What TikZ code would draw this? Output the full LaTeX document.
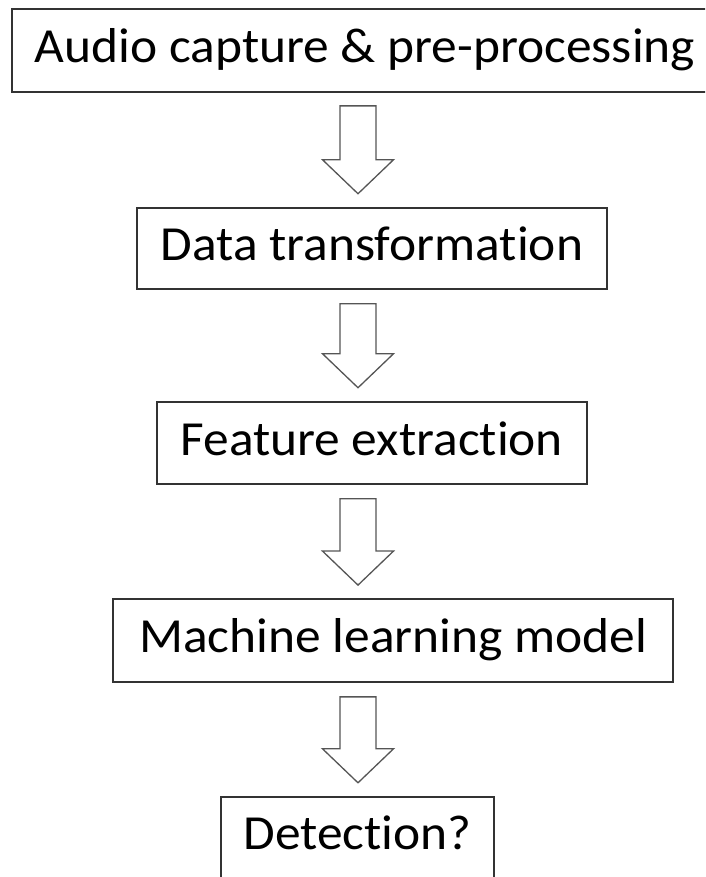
\documentclass[tikz,border=0pt]{standalone}
\usepackage{fontspec}
\setmainfont[Ligatures=CommonOff,FakeStretch=1.05]{Carlito}
\usetikzlibrary{calc}
\definecolor{boxline}{HTML}{333333}
\definecolor{arrline}{HTML}{555555}
\tikzset{
  stepbox/.style={draw=boxline, line width=1.8pt, fill=white, inner sep=0pt,
    font=\fontsize{49}{56}\selectfont, text height=36pt, text depth=11pt, align=center},
  openbox/.style={stepbox, draw=none},
  boxedge/.style={draw=boxline, line width=1.8pt, line join=miter},
  flowarrow/.style={draw=arrline, line width=1.3pt, fill=white, line join=miter}
}
\newcommand{\blockarrow}[2]{%
  \draw[flowarrow] let \p1=(#1.south), \p2=(#2.north) in
    (340pt,\y1-14pt) -- (376pt,\y1-14pt) -- (376pt,\y2+47pt) -- (393.5pt,\y2+47pt)
    -- (358pt,\y2+13pt) -- (322.5pt,\y2+47pt) -- (340pt,\y2+47pt) -- cycle;}
\begin{document}
\begin{tikzpicture}[x=1pt,y=1pt]
\useasboundingbox (0,0) rectangle (705,877);
\clip (0,0) rectangle (705,877);
\fill[white] (0,0) rectangle (705,877);
\node[openbox, minimum width=760pt, minimum height=81pt] (capture) at (393,826.5) {\kern-56pt Audio capture \& pre-processing};
\draw[boxedge] (capture.north east) -- (capture.north west) -- (capture.south west) -- (capture.south east);
\node[stepbox, minimum width=469.4pt, minimum height=81.3pt] (transform) at (372,628.7) {Data transformation};
\node[stepbox, minimum width=430pt, minimum height=82.3pt] (features) at (371.7,434.2) {Feature extraction};
\node[stepbox, minimum width=559.7pt, minimum height=83pt] (model) at (393.2,236.5) {Machine learning model};
\node[stepbox, minimum width=272.7pt, minimum height=81pt] (detect) at (357.7,39.8) {Detection?};
\blockarrow{capture}{transform}
\blockarrow{transform}{features}
\blockarrow{features}{model}
\blockarrow{model}{detect}
\end{tikzpicture}
\end{document}
